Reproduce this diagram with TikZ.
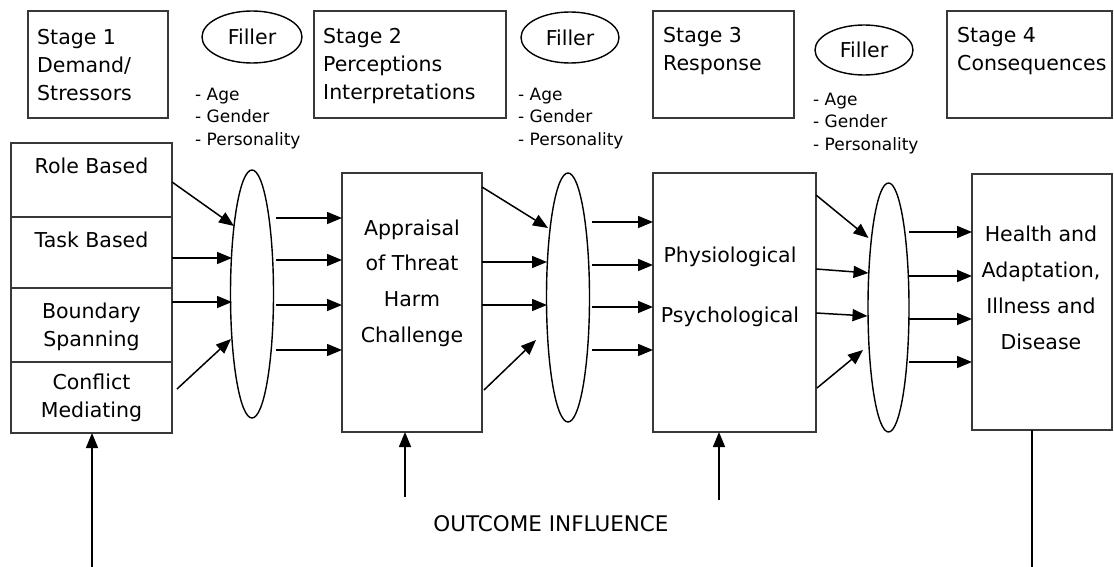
\documentclass[tikz,border=0pt]{standalone}
\usepackage{fontspec}
\setmainfont{DejaVu Sans}
\usetikzlibrary{arrows.meta,shapes.geometric,calc}
\begin{document}
\begin{tikzpicture}[x=1pt,y=-1pt,
  box/.style={draw=black!78, line width=1.7pt, inner sep=0pt, outer sep=0pt, anchor=north west},
  ell/.style={draw=black, line width=1.4pt, ellipse, inner sep=0pt, outer sep=0pt},
  arr/.style={-{Triangle[length=15pt,width=12pt]}, line width=1.5pt},
  big/.style={font=\fontsize{20.5}{28}\selectfont, inner sep=0pt},
  small/.style={font=\fontsize{17}{22.5}\selectfont, inner sep=0pt, anchor=north west, align=left}
]
\useasboundingbox (0,0) rectangle (1114,567);
\fill[white] (0,0) rectangle (1114,567);

% top stage boxes
\node[box, minimum width=140pt, minimum height=107pt] (s1) at (28,11) {};
\node[box, minimum width=192pt, minimum height=107pt] (s2) at (314,11) {};
\node[box, minimum width=141pt, minimum height=107pt] (s3) at (653,11) {};
\node[box, minimum width=165pt, minimum height=107pt] (s4) at (947,11) {};
\node[big, anchor=north west, align=left] (t1) at (37,29) {Stage 1\\Demand/\\Stressors};
\node[big, anchor=north west, align=left] (t2) at (323,28) {Stage 2\\Perceptions\\Interpretations};
\node[big, anchor=north west, align=left] (t3) at (663,27) {Stage 3\\Response};
\node[big, anchor=north west, align=left] (t4) at (957,27) {Stage 4\\Consequences};

% filler ellipses
\node[ell, big, minimum width=100pt, minimum height=52pt] (f1) at (252,37) {Filler};
\node[ell, big, minimum width=98pt, minimum height=51pt] (f2) at (570,37.5) {Filler};
\node[ell, big, minimum width=98pt, minimum height=50pt] (f3) at (864,50) {Filler};
\node[small] (l1) at (195,87.5) {- Age\\- Gender\\- Personality};
\node[small] (l2) at (518,87.5) {- Age\\- Gender\\- Personality};
\node[small] (l3) at (813,92.5) {- Age\\- Gender\\- Personality};

% stage 1 stack
\node[box, minimum width=161pt, minimum height=74pt] (rb) at (11,143) {};
\node[box, minimum width=161pt, minimum height=71pt] (tb) at (11,217) {};
\node[box, minimum width=161pt, minimum height=74pt] (bs) at (11,288) {};
\node[box, minimum width=161pt, minimum height=71pt] (cm) at (11,362) {};
\node[big] (trb) at (91.5,165.5) {Role Based};
\node[big] (ttb) at (91.5,239.5) {Task Based};
\node[big, align=center] (tbs) at (91.5,327) {Boundary\\Spanning};
\node[big, align=center] (tcm) at (91.5,398) {Conflict\\Mediating};

% lower boxes
\node[box, minimum width=140pt, minimum height=259pt] (a) at (342,173) {};
\node[box, minimum width=163pt, minimum height=259pt] (p) at (653,173) {};
\node[box, minimum width=140pt, minimum height=256pt] (h) at (972,174) {};
\node[big, align=center, font=\fontsize{20.5}{35.7}\selectfont] (ta) at (412,283) {Appraisal\\of Threat\\Harm\\Challenge};
\node[big] (tp1) at (730,256.6) {Physiological};
\node[big] (tp2) at (730,316.6) {Psychological};
\node[big, align=center, font=\fontsize{20.5}{36}\selectfont] (th) at (1041,287.7) {Health and\\Adaptation,\\Illness and\\Disease};

% lower ellipses
\node[ell, minimum width=43pt, minimum height=248pt] (e1) at (252,294) {};
\node[ell, minimum width=43pt, minimum height=249pt] (e2) at (568,297.5) {};
\node[ell, minimum width=41pt, minimum height=249pt] (e3) at (888.5,307.5) {};

% stack -> e1
\draw[arr] ($(rb.north east)+(0,39)$) -- ($(e1.center)+(-18,-68)$);
\draw[arr] ($(tb.north east)+(0,41)$) -- ($(e1.center)+(-20,-36)$);
\draw[arr] ($(bs.north east)+(0,14)$) -- ($(e1.center)+(-20,8)$);
\draw[arr] ($(cm.north east)+(5,27)$) -- ($(e1.center)+(-21,45)$);
% e1 -> a
\foreach \d/\b in {-76/45,-34/87,11/132,56/177}
  \draw[arr] ($(e1.center)+(24,\d)$) -- ($(a.north west)+(0,\b)$);
% a -> e2
\draw[arr] ($(a.north east)+(0,14)$) -- ($(e2.center)+(-20,-69.5)$);
\draw[arr] ($(a.north east)+(0,89)$) -- ($(e2.center)+(-21,-35.5)$);
\draw[arr] ($(a.north east)+(0,132)$) -- ($(e2.center)+(-21,7.5)$);
\draw[arr] ($(a.north east)+(2,217)$) -- ($(e2.center)+(-32,42.5)$);
% e2 -> p
\foreach \d/\b in {-75.5/49,-32.5/92,9.5/134,52.5/177}
  \draw[arr] ($(e2.center)+(24,\d)$) -- ($(p.north west)+(0,\b)$);
% p -> e3
\draw[arr] ($(p.north east)+(0,22)$) -- ($(e3.center)+(-20,-69.5)$);
\draw[arr] ($(p.north east)+(0,96)$) -- ($(e3.center)+(-20,-34.5)$);
\draw[arr] ($(p.north east)+(0,140)$) -- ($(e3.center)+(-21,8.5)$);
\draw[arr] ($(p.north east)+(1,215)$) -- ($(e3.center)+(-25.5,42.5)$);
% e3 -> h
\foreach \d/\b in {-75.5/58,-31.5/102,11.5/145,54.5/188}
  \draw[arr] ($(e3.center)+(20.5,\d)$) -- ($(h.north west)+(0,\b)$);

% outcome influence
\coordinate (c1) at (92,567);
\coordinate (c2) at (405,497);
\coordinate (c3) at (719,500);
\coordinate (c4) at (1032,567);
\draw[arr] (c1) -- (c1 |- cm.south);
\draw[arr] (c2) -- (c2 |- a.south);
\draw[arr] (c3) -- (c3 |- p.south);
\draw[line width=1.5pt] (c4 |- h.south) -- (c4);
\node[font=\fontsize{21.5}{26}\selectfont, inner sep=0pt] (oi) at (551,523.5) {OUTCOME INFLUENCE};
\end{tikzpicture}
\end{document}
